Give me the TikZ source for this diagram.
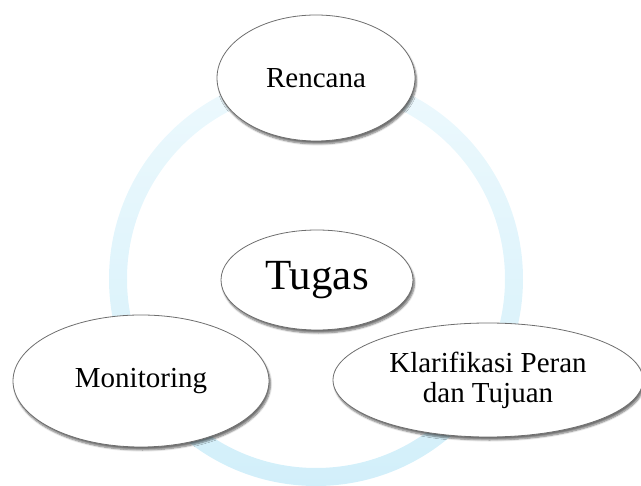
\documentclass[tikz,border=0pt]{standalone}
\usepackage{fontspec}
\setmainfont{Liberation Serif}
\usetikzlibrary{shapes.geometric,shadows.blur}
\definecolor{ringblue}{HTML}{D2EFFA}
\definecolor{ringtop}{HTML}{EDF9FD}
\definecolor{ovalline}{HTML}{6E6E6E}

\begin{document}
\begin{tikzpicture}[x=1pt,y=-1pt,
  oval/.style={
    ellipse,
    draw=ovalline,
    line width=0.8pt,
    fill=white,
    inner sep=0pt,
    align=center,
    font=\fontsize{29}{30}\selectfont,
    blur shadow={shadow xshift=1.5pt,shadow yshift=-3pt,shadow blur steps=6,shadow opacity=55}
  }]
\useasboundingbox (0,0) rectangle (641,486);
% ring behind the ovals
\coordinate (ring) at (316,279);
\shade[top color=ringtop,bottom color=ringblue,even odd rule]
  (ring) circle (207) (ring) circle (189);
% ovals
\node[oval,minimum width=198pt,minimum height=126pt] (rencana) at (316,78) {Rencana};
\node[oval,minimum width=192pt,minimum height=100pt,font=\fontsize{43}{46}\selectfont] (tugas) at (317,280) {Tugas};
\node[oval,minimum width=256pt,minimum height=132pt] (monitoring) at (141,381) {Monitoring};
\node[oval,minimum width=310pt,minimum height=114pt] (klarifikasi) at (488,380) {Klarifikasi Peran\\dan Tujuan};
\end{tikzpicture}
\end{document}
